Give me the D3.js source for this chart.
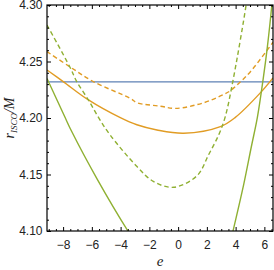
<!DOCTYPE html>
<html>
<head>
<meta charset="utf-8">
<script src="https://cdn.jsdelivr.net/npm/d3@7"></script>
<style>
  body { margin: 0; background: #fff; }
  .tick text { font-family: "Liberation Sans", Arial, sans-serif; font-size: 12px; fill: #222; }
  .tick line { stroke: #000; }
  .title { font-family: "Liberation Serif", "Times New Roman", serif; font-style: italic; fill: #222; }
</style>
</head>
<body>
<svg id="chart" width="274" height="270"></svg>
<script>
// Axis ranges and tick labels
const xDomain = [-9.12, 6.6];
const yDomain = [4.10, 4.30];
const xMajor = [-8, -6, -4, -2, 0, 2, 4, 6];
const yMajor = [4.10, 4.15, 4.20, 4.25, 4.30];

// Curves: [e, r_ISCO/M]
const blueLine = [[-9.12, 4.232], [6.6, 4.232]];
const orangeSolid = [[-9.12, 4.2425], [-7.97, 4.232], [-6.24, 4.216], [-4.02, 4.2003], [-2.87, 4.194],
  [-1.47, 4.1894], [0.39, 4.1865], [2.94, 4.1923], [3.96, 4.2003], [5.70, 4.222], [6.6, 4.2355]];
const orangeDashed = [[-9.12, 4.2587], [-7.54, 4.2454], [-5.87, 4.232], [-3.33, 4.2174], [-2.86, 4.2135],
  [-1.26, 4.2105], [-0.16, 4.2085], [1.78, 4.2135], [2.94, 4.2195], [3.61, 4.2239], [4.30, 4.2316],
  [5.03, 4.241], [6.6, 4.267]];
const greenDashed = [[-9.12, 4.2823], [-7.54, 4.2454], [-7.04, 4.232], [-6.24, 4.216], [-5.53, 4.2003],
  [-4.73, 4.185], [-2.86, 4.157], [-1.70, 4.1437], [-0.30, 4.1387], [1.32, 4.149], [2.13, 4.1677],
  [2.82, 4.185], [3.26, 4.2003], [3.80, 4.232], [4.73, 4.30], [5.0, 4.325]];
const greenSolidLeft = [[-9.12, 4.235], [-7.90, 4.2015], [-7.40, 4.188], [-5.66, 4.1466], [-3.49, 4.10],
  [-2.8, 4.087]];
const greenSolidRight = [[3.4, 4.077], [3.82, 4.10], [4.56, 4.141], [5.1, 4.175], [5.51, 4.2003],
  [5.91, 4.234], [6.2, 4.262], [6.52, 4.30], [6.8, 4.34]];

const padL = 47, padR = 273, padT = 5, padB = 231;
const svg = d3.select("#chart");

const x = d3.scaleLinear().domain(xDomain).range([padL, padR]);
const y = d3.scaleLinear().domain(yDomain).range([padB, padT]);

// minor ticks
const xMinor = d3.range(-9, 6.6, 0.5).filter(v => !xMajor.includes(v));
const yMinor = d3.range(410, 431, 1).map(v => v / 100).filter(v => !yMajor.some(m => Math.abs(m - v) < 1e-9));

svg.append("defs").append("clipPath").attr("id", "clip")
  .append("rect").attr("x", padL).attr("y", padT).attr("width", padR - padL).attr("height", padB - padT);

const line = d3.line().x(d => x(d[0])).y(d => y(d[1])).curve(d3.curveCatmullRom.alpha(0.5));

const plot = svg.append("g").attr("clip-path", "url(#clip)");
const series = [
  { data: blueLine, color: "#5e81b5", dash: null },
  { data: orangeDashed, color: "#e19c24", dash: "4.5,3" },
  { data: orangeSolid, color: "#e19c24", dash: null },
  { data: greenDashed, color: "#8fb032", dash: "4.5,3" },
  { data: greenSolidLeft, color: "#8fb032", dash: null },
  { data: greenSolidRight, color: "#8fb032", dash: null }
];
series.forEach(s => {
  plot.append("path")
    .attr("d", line(s.data))
    .attr("fill", "none")
    .attr("stroke", s.color)
    .attr("stroke-width", 1.4)
    .attr("stroke-dasharray", s.dash);
});

// axes with inward ticks on all four sides
function addAxis(axis, tx, ty) {
  const g = svg.append("g").attr("transform", `translate(${tx},${ty})`).call(axis);
  g.select(".domain").remove();
  return g;
}
addAxis(d3.axisBottom(x).tickValues(xMajor).tickSize(-4).tickPadding(9).tickFormat(d3.format("d")), 0, padB);
addAxis(d3.axisBottom(x).tickValues(xMinor).tickSize(-2).tickFormat(""), 0, padB);
addAxis(d3.axisTop(x).tickValues(xMajor).tickSize(-4).tickFormat(""), 0, padT);
addAxis(d3.axisTop(x).tickValues(xMinor).tickSize(-2).tickFormat(""), 0, padT);
addAxis(d3.axisLeft(y).tickValues(yMajor).tickSize(-4).tickPadding(4.5).tickFormat(d3.format(".2f")), padL, 0);
addAxis(d3.axisLeft(y).tickValues(yMinor).tickSize(-2).tickFormat(""), padL, 0);
addAxis(d3.axisRight(y).tickValues(yMajor).tickSize(-4).tickFormat(""), padR, 0);
addAxis(d3.axisRight(y).tickValues(yMinor).tickSize(-2).tickFormat(""), padR, 0);

svg.append("rect")
  .attr("x", padL).attr("y", padT).attr("width", padR - padL).attr("height", padB - padT)
  .attr("fill", "none").attr("stroke", "#000").attr("stroke-width", 1.2);

// axis titles
svg.append("text").attr("class", "title")
  .attr("x", (padL + padR) / 2).attr("y", 266)
  .attr("text-anchor", "middle").attr("font-size", 15).text("e");

const yt = svg.append("text").attr("class", "title")
  .attr("transform", `translate(14,${(padT + padB) / 2}) rotate(-90)`)
  .attr("text-anchor", "middle").attr("font-size", 14);
yt.append("tspan").text("r");
yt.append("tspan").attr("font-size", 9).attr("dy", 3).text("ISCO");
yt.append("tspan").attr("dy", -3).text("/M");
</script>
</body>
</html>
